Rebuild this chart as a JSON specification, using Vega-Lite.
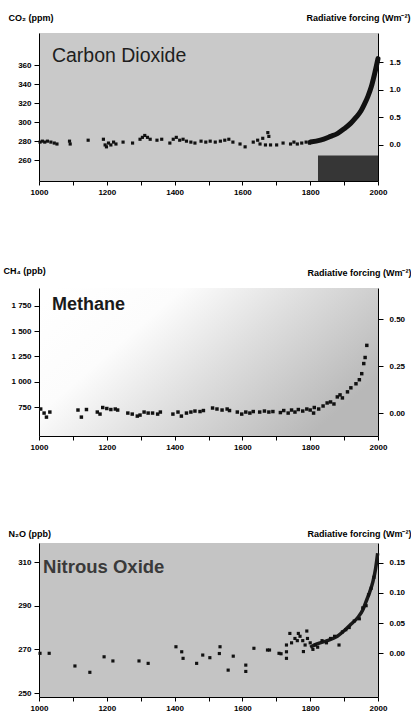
{
  "$schema": "https://vega.github.io/schema/vega-lite/v6.json",
  "background": "white",
  "padding": {"left": 3, "top": 13, "right": 0, "bottom": 0},
  "autosize": {"type": "pad"},
  "bounds": "flush",
  "spacing": 107,
  "config": {
    "font": "Liberation Sans",
    "view": {"stroke": null},
    "axis": {
      "labelFont": "Liberation Sans", "labelFontSize": 8, "labelFontWeight": "bold", "labelColor": "#000",
      "titleFont": "Liberation Sans", "titleFontSize": 9, "titleFontWeight": "bold", "titleColor": "#000",
      "domainColor": "#000", "tickColor": "#000", "grid": false, "tickSize": 4, "domainWidth": 1
    }
  },
  "datasets": {
    "co2_ice": [
      {"year":1003,"v":279},{"year":1010,"v":280},{"year":1017,"v":279},{"year":1025,"v":280},{"year":1035,"v":279},{"year":1045,"v":278},{"year":1053,"v":277},
      {"year":1090,"v":280},{"year":1092,"v":277},{"year":1145,"v":281},
      {"year":1190,"v":282},{"year":1195,"v":276},{"year":1199,"v":274},{"year":1205,"v":278},{"year":1212,"v":276},{"year":1220,"v":279},{"year":1227,"v":277},
      {"year":1248,"v":279},{"year":1276,"v":278},
      {"year":1298,"v":282},{"year":1305,"v":284},{"year":1312,"v":286},{"year":1320,"v":284},{"year":1328,"v":282},
      {"year":1348,"v":281},{"year":1362,"v":282},{"year":1386,"v":278},
      {"year":1396,"v":282},{"year":1405,"v":284},{"year":1415,"v":281},{"year":1425,"v":282},{"year":1435,"v":280},
      {"year":1448,"v":279},{"year":1460,"v":278},
      {"year":1478,"v":280},{"year":1492,"v":279},{"year":1505,"v":280},{"year":1520,"v":279},{"year":1535,"v":280},{"year":1548,"v":281},{"year":1560,"v":282},{"year":1572,"v":279},
      {"year":1593,"v":277},{"year":1608,"v":274},
      {"year":1632,"v":279},{"year":1645,"v":281},{"year":1652,"v":277},{"year":1660,"v":283},{"year":1668,"v":276},{"year":1675,"v":289},{"year":1678,"v":285},{"year":1683,"v":276},
      {"year":1701,"v":276},{"year":1720,"v":278},
      {"year":1742,"v":277},{"year":1752,"v":279},{"year":1762,"v":277},{"year":1775,"v":278},{"year":1788,"v":279},{"year":1798,"v":278}
    ],
    "co2_modern": [
      {"year":1800,"v":279},{"year":1830,"v":281},{"year":1860,"v":285},{"year":1880,"v":288},{"year":1900,"v":293},{"year":1920,"v":299},{"year":1935,"v":305},{"year":1950,"v":312},{"year":1960,"v":319},{"year":1970,"v":327},{"year":1980,"v":337},{"year":1990,"v":351},{"year":2000,"v":367}
    ],
    "ch4": [
      {"year":1005,"v":730},{"year":1015,"v":690},{"year":1022,"v":650},{"year":1032,"v":700},
      {"year":1115,"v":720},{"year":1125,"v":650},{"year":1140,"v":725},
      {"year":1172,"v":700},{"year":1180,"v":680},{"year":1188,"v":745},
      {"year":1200,"v":735},{"year":1212,"v":725},{"year":1225,"v":730},{"year":1232,"v":720},
      {"year":1262,"v":690},{"year":1275,"v":680},{"year":1290,"v":660},{"year":1298,"v":670},
      {"year":1310,"v":700},{"year":1322,"v":690},{"year":1335,"v":690},{"year":1350,"v":680},{"year":1358,"v":700},
      {"year":1395,"v":680},{"year":1410,"v":700},{"year":1420,"v":660},{"year":1435,"v":690},
      {"year":1448,"v":700},{"year":1460,"v":710},{"year":1475,"v":705},{"year":1485,"v":715},
      {"year":1512,"v":740},{"year":1525,"v":730},{"year":1540,"v":720},{"year":1555,"v":730},{"year":1562,"v":715},
      {"year":1585,"v":700},{"year":1598,"v":680},{"year":1610,"v":700},{"year":1622,"v":690},{"year":1632,"v":705},
      {"year":1651,"v":700},{"year":1665,"v":710},{"year":1678,"v":700},{"year":1690,"v":705},
      {"year":1712,"v":695},{"year":1722,"v":715},{"year":1735,"v":690},{"year":1745,"v":720},{"year":1755,"v":700},{"year":1765,"v":725},{"year":1778,"v":710},{"year":1790,"v":730},
      {"year":1800,"v":720},{"year":1810,"v":690},{"year":1812,"v":745},{"year":1825,"v":730},{"year":1838,"v":760},{"year":1850,"v":790},{"year":1860,"v":800},{"year":1870,"v":780},
      {"year":1880,"v":850},{"year":1888,"v":870},{"year":1895,"v":840},{"year":1910,"v":900},{"year":1920,"v":940},{"year":1935,"v":980},{"year":1945,"v":1020},
      {"year":1952,"v":1080},{"year":1958,"v":1180},{"year":1962,"v":1240},{"year":1967,"v":1360}
    ],
    "n2o_ice": [
      {"year":1003,"v":268.2},{"year":1030,"v":268.2},{"year":1106,"v":262.4},{"year":1150,"v":259.5},{"year":1192,"v":266.6},{"year":1218,"v":264.7},
      {"year":1295,"v":264.7},{"year":1322,"v":263.6},{"year":1404,"v":271.2},{"year":1421,"v":268.9},{"year":1425,"v":265.9},{"year":1465,"v":263.6},
      {"year":1483,"v":267.4},{"year":1504,"v":266.2},{"year":1534,"v":271.2},{"year":1532,"v":268.1},{"year":1558,"v":260.5},{"year":1573,"v":266.9},
      {"year":1610,"v":262.8},{"year":1610,"v":259.9},{"year":1634,"v":270.5},{"year":1674,"v":269.7},{"year":1680,"v":269.7},{"year":1708,"v":268.2},{"year":1714,"v":268.0},
      {"year":1730,"v":272},{"year":1730,"v":268.9},{"year":1730,"v":265.9},{"year":1740,"v":277.3},{"year":1765,"v":277.3},{"year":1790,"v":278.4},{"year":1780,"v":269}
    ],
    "n2o_band": [
      {"year":1745,"v":273},{"year":1755,"v":275},{"year":1762,"v":274},{"year":1770,"v":276},{"year":1778,"v":274},{"year":1785,"v":272},{"year":1792,"v":275},
      {"year":1800,"v":273},{"year":1808,"v":270},{"year":1815,"v":272},{"year":1822,"v":271},{"year":1835,"v":274},{"year":1848,"v":273},{"year":1860,"v":275},
      {"year":1872,"v":276},{"year":1885,"v":272},{"year":1895,"v":278},{"year":1905,"v":279},{"year":1915,"v":280},{"year":1930,"v":283},{"year":1945,"v":284},
      {"year":1955,"v":289},{"year":1965,"v":290},{"year":1972,"v":295},{"year":1980,"v":298},{"year":1988,"v":303}
    ],
    "n2o_modern": [
      {"year":1800,"v":271},{"year":1820,"v":272.5},{"year":1850,"v":274},{"year":1880,"v":276},{"year":1900,"v":278.5},{"year":1920,"v":281.5},{"year":1940,"v":284.5},
      {"year":1955,"v":288},{"year":1965,"v":292},{"year":1975,"v":296},{"year":1985,"v":301},{"year":1993,"v":307},{"year":1999,"v":314}
    ]
  },
  "vconcat": [
    {
      "width": 339, "height": 148,
      "view": {"fill": "#c9c9c9", "stroke": null},
      "encoding": {
        "x": {"field": "year", "type": "quantitative", "scale": {"domain": [1000, 2000], "nice": false, "zero": false},
          "axis": {"title": null, "values": [1000,1100,1200,1300,1400,1500,1600,1700,1800,1900,2000], "format": "d",
            "labelExpr": "datum.value % 200 === 0 ? datum.label : ''", "labelFlush": false, "labelOverlap": false, "labelPadding": 3}}
      },
      "layer": [
        {
          "encoding": {"y": {"field": "v", "type": "quantitative", "title": "CO₂ (ppm)",
            "scale": {"domain": [238, 394], "nice": false, "zero": false},
            "axis": {"values": [260,280,300,320,340,360], "tickSize": 5, "labelPadding": 3,
              "titleAngle": 0, "titleAlign": "left", "titleBaseline": "alphabetic", "titleX": -31, "titleY": -13}}},
          "layer": [
            {"data": {"values": [{"year": 1823, "year2": 2000, "v": 265, "v2": 238}]},
             "mark": {"type": "rect", "fill": "#363636"},
             "encoding": {"x2": {"field": "year2"}, "y2": {"field": "v2"}}},
            {"data": {"name": "co2_ice"}, "mark": {"type": "square", "filled": true, "color": "#111", "size": 10, "opacity": 1}, "encoding": {}},
            {"data": {"name": "co2_modern"}, "mark": {"type": "line", "color": "#111", "strokeWidth": 5, "strokeCap": "round", "interpolate": "monotone"}, "encoding": {}},
            {"data": {"values": [{"year": 1038, "v": 363, "label": "Carbon Dioxide"}]},
             "mark": {"type": "text", "align": "left", "baseline": "alphabetic", "fontSize": 19.5, "font": "Liberation Sans", "color": "#1e1e1e"},
             "encoding": {"text": {"field": "label"}}}
          ]
        },
        {
          "data": {"values": [{"year": 2000, "f": 0}]},
          "mark": {"type": "point", "opacity": 0},
          "encoding": {"y": {"field": "f", "type": "quantitative", "title": "Radiative forcing (Wm⁻²)",
            "scale": {"domain": [-0.651, 2.025], "nice": false, "zero": false},
            "axis": {"orient": "right", "values": [0, 0.5, 1, 1.5], "format": ".1f", "tickSize": 5, "labelPadding": 6,
              "titleAngle": 0, "titleAlign": "right", "titleBaseline": "alphabetic", "titleX": 32, "titleY": -13}}}
        }
      ],
      "resolve": {"scale": {"y": "independent"}}
    },
    {
      "width": 339, "height": 148,
      "view": {"fill": {"gradient": "linear", "x1": 0, "y1": 0.1, "x2": 1, "y2": 0.6,
        "stops": [{"offset": 0, "color": "#ffffff"}, {"offset": 0.3, "color": "#fcfcfc"}, {"offset": 0.6, "color": "#dedede"}, {"offset": 1, "color": "#b8b8b8"}]}, "stroke": null},
      "encoding": {
        "x": {"field": "year", "type": "quantitative", "scale": {"domain": [1000, 2000], "nice": false, "zero": false},
          "axis": {"title": null, "values": [1000,1100,1200,1300,1400,1500,1600,1700,1800,1900,2000], "format": "d",
            "labelExpr": "datum.value % 200 === 0 ? datum.label : ''", "labelFlush": false, "labelOverlap": false, "labelPadding": 3}}
      },
      "layer": [
        {
          "encoding": {"y": {"field": "v", "type": "quantitative", "title": "CH₄ (ppb)",
            "scale": {"domain": [463, 1928], "nice": false, "zero": false},
            "axis": {"values": [750,1000,1250,1500,1750], "format": ",d", "labelExpr": "replace(datum.label, ',', ' ')", "tickSize": 5, "labelPadding": 3,
              "titleAngle": 0, "titleAlign": "left", "titleBaseline": "alphabetic", "titleX": -36, "titleY": -15}}},
          "layer": [
            {"data": {"name": "ch4"}, "mark": {"type": "square", "filled": true, "color": "#111", "size": 12, "opacity": 1}, "encoding": {}},
            {"data": {"values": [{"year": 1038, "v": 1710, "label": "Methane"}]},
             "mark": {"type": "text", "align": "left", "baseline": "alphabetic", "fontSize": 18, "fontWeight": "bold", "font": "Liberation Sans", "color": "#1a1a1a"},
             "encoding": {"text": {"field": "label"}}}
          ]
        },
        {
          "data": {"values": [{"year": 2000, "f": 0}]},
          "mark": {"type": "point", "opacity": 0},
          "encoding": {"y": {"field": "f", "type": "quantitative", "title": "Radiative forcing (Wm⁻²)",
            "scale": {"domain": [-0.122, 0.665], "nice": false, "zero": false},
            "axis": {"orient": "right", "values": [0, 0.25, 0.5], "format": ".2f", "tickSize": 5, "labelPadding": 6,
              "titleAngle": 0, "titleAlign": "right", "titleBaseline": "alphabetic", "titleX": 33, "titleY": -13}}}
        }
      ],
      "resolve": {"scale": {"y": "independent"}}
    },
    {
      "width": 339, "height": 154,
      "view": {"fill": "#c4c4c4", "stroke": null},
      "encoding": {
        "x": {"field": "year", "type": "quantitative", "scale": {"domain": [1000, 2000], "nice": false, "zero": false},
          "axis": {"title": null, "values": [1000,1100,1200,1300,1400,1500,1600,1700,1800,1900,2000], "format": "d",
            "labelExpr": "datum.value % 200 === 0 ? datum.label : ''", "labelFlush": false, "labelOverlap": false, "labelPadding": 3}}
      },
      "layer": [
        {
          "encoding": {"y": {"field": "v", "type": "quantitative", "title": "N₂O (ppb)",
            "scale": {"domain": [248.2, 318.7], "nice": false, "zero": false},
            "axis": {"values": [250,270,290,310], "tickSize": 5, "labelPadding": 3,
              "titleAngle": 0, "titleAlign": "left", "titleBaseline": "alphabetic", "titleX": -31, "titleY": -7}}},
          "layer": [
            {"data": {"name": "n2o_modern"}, "mark": {"type": "line", "color": "#1a1a1a", "strokeWidth": 3.5, "interpolate": "monotone"}, "encoding": {}},
            {"data": {"name": "n2o_band"}, "mark": {"type": "square", "filled": true, "color": "#111", "size": 10, "opacity": 1}, "encoding": {}},
            {"data": {"name": "n2o_ice"}, "mark": {"type": "square", "filled": true, "color": "#111", "size": 10, "opacity": 1}, "encoding": {}},
            {"data": {"values": [{"year": 1012, "v": 304.8, "label": "Nitrous Oxide"}]},
             "mark": {"type": "text", "align": "left", "baseline": "alphabetic", "fontSize": 18.5, "fontWeight": "bold", "font": "Liberation Sans", "color": "#3a3a3a"},
             "encoding": {"text": {"field": "label"}}}
          ]
        },
        {
          "data": {"values": [{"year": 2000, "f": 0}]},
          "mark": {"type": "point", "opacity": 0},
          "encoding": {"y": {"field": "f", "type": "quantitative", "title": "Radiative forcing (Wm⁻²)",
            "scale": {"domain": [-0.0733, 0.1833], "nice": false, "zero": false},
            "axis": {"orient": "right", "values": [0, 0.05, 0.1, 0.15], "format": ".2f", "tickSize": 5, "labelPadding": 6,
              "titleAngle": 0, "titleAlign": "right", "titleBaseline": "alphabetic", "titleX": 33, "titleY": -7}}}
        }
      ],
      "resolve": {"scale": {"y": "independent"}}
    }
  ]
}
